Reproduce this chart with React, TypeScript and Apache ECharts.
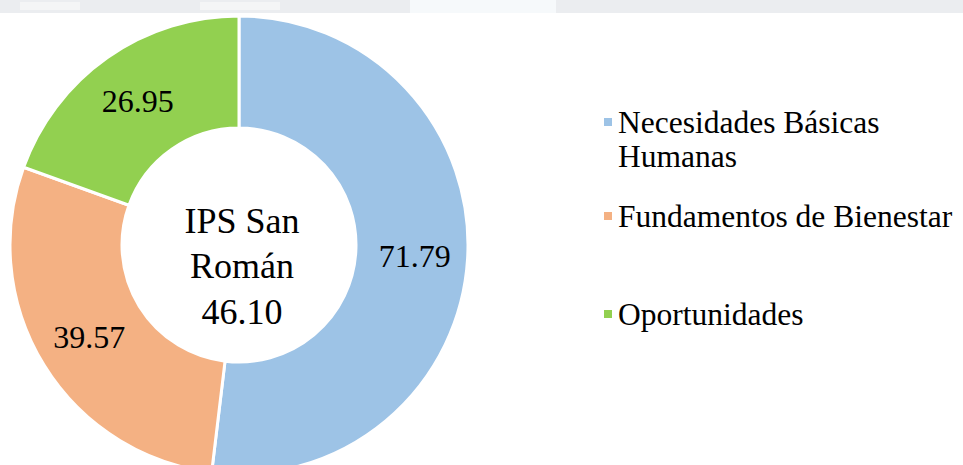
import React, { useEffect, useRef } from 'react';
import * as echarts from 'echarts';

const categories = ['Necesidades Básicas Humanas', 'Fundamentos de Bienestar', 'Oportunidades'];
const values = [71.79, 39.57, 26.95];
const colors = ['#9DC3E6', '#F4B183', '#92D050'];
const legendLabels = [' \nNecesidades Básicas\nHumanas', 'Fundamentos de Bienestar', 'Oportunidades'];
const centerTitle = 'IPS San\nRomán';
const centerValue = '46.10';

const FONT = 'Liberation Serif';

export default function App() {
  const ref = useRef<HTMLDivElement>(null);

  useEffect(() => {
    if (!ref.current) return;
    const chart = echarts.init(ref.current, undefined, { renderer: 'svg' });
    const legendTops = [71, 199, 297];
    const option: any = {
      animation: false,
      backgroundColor: '#ffffff',
      graphic: [
        { type: 'rect', shape: { x: 0, y: 0, width: 963, height: 13 }, style: { fill: '#EBEDF0' }, silent: true },
        { type: 'rect', shape: { x: 410, y: 0, width: 146, height: 13 }, style: { fill: '#F6F9FB' }, silent: true },
        { type: 'rect', shape: { x: 20, y: 2, width: 60, height: 8 }, style: { fill: '#F4F5F6' }, silent: true },
        { type: 'rect', shape: { x: 200, y: 2, width: 80, height: 8 }, style: { fill: '#F4F5F6' }, silent: true },
        {
          type: 'text',
          silent: true,
          style: {
            text: centerTitle + '\n' + centerValue,
            x: 242,
            y: 266,
            align: 'center',
            verticalAlign: 'middle',
            fontSize: 36,
            fontFamily: FONT,
            lineHeight: 45.5,
            fill: '#000000',
          },
        },
      ],
      legend: categories.map((name, i) => ({
        data: [name],
        orient: 'vertical',
        left: 602,
        top: legendTops[i],
        padding: 0,
        itemWidth: 10,
        itemHeight: 10,
        itemGap: 0,
        icon: 'rect',
        selectedMode: false,
        formatter: () => legendLabels[i],
        textStyle: {
          fontFamily: FONT,
          fontSize: 31.5,
          color: '#000000',
          lineHeight: 34,
        },
      })),
      series: [
        {
          type: 'pie',
          center: [239, 245],
          radius: [117, 229],
          startAngle: 90,
          clockwise: true,
          avoidLabelOverlap: false,
          silent: true,
          itemStyle: { borderColor: '#ffffff', borderWidth: 3 },
          label: {
            show: true,
            position: 'inside',
            formatter: (p: any) => p.value.toFixed(2),
            fontFamily: FONT,
            fontSize: 32,
            color: '#000000',
          },
          labelLine: { show: false },
          data: categories.map((name, i) => ({
            name,
            value: values[i],
            itemStyle: { color: colors[i] },
          })),
        },
      ],
    };
    chart.setOption(option);
    return () => chart.dispose();
  }, []);

  return (
    <div
      ref={ref}
      style={{ position: 'absolute', left: 0, top: 0, width: 963, height: 465 }}
    />
  );
}
